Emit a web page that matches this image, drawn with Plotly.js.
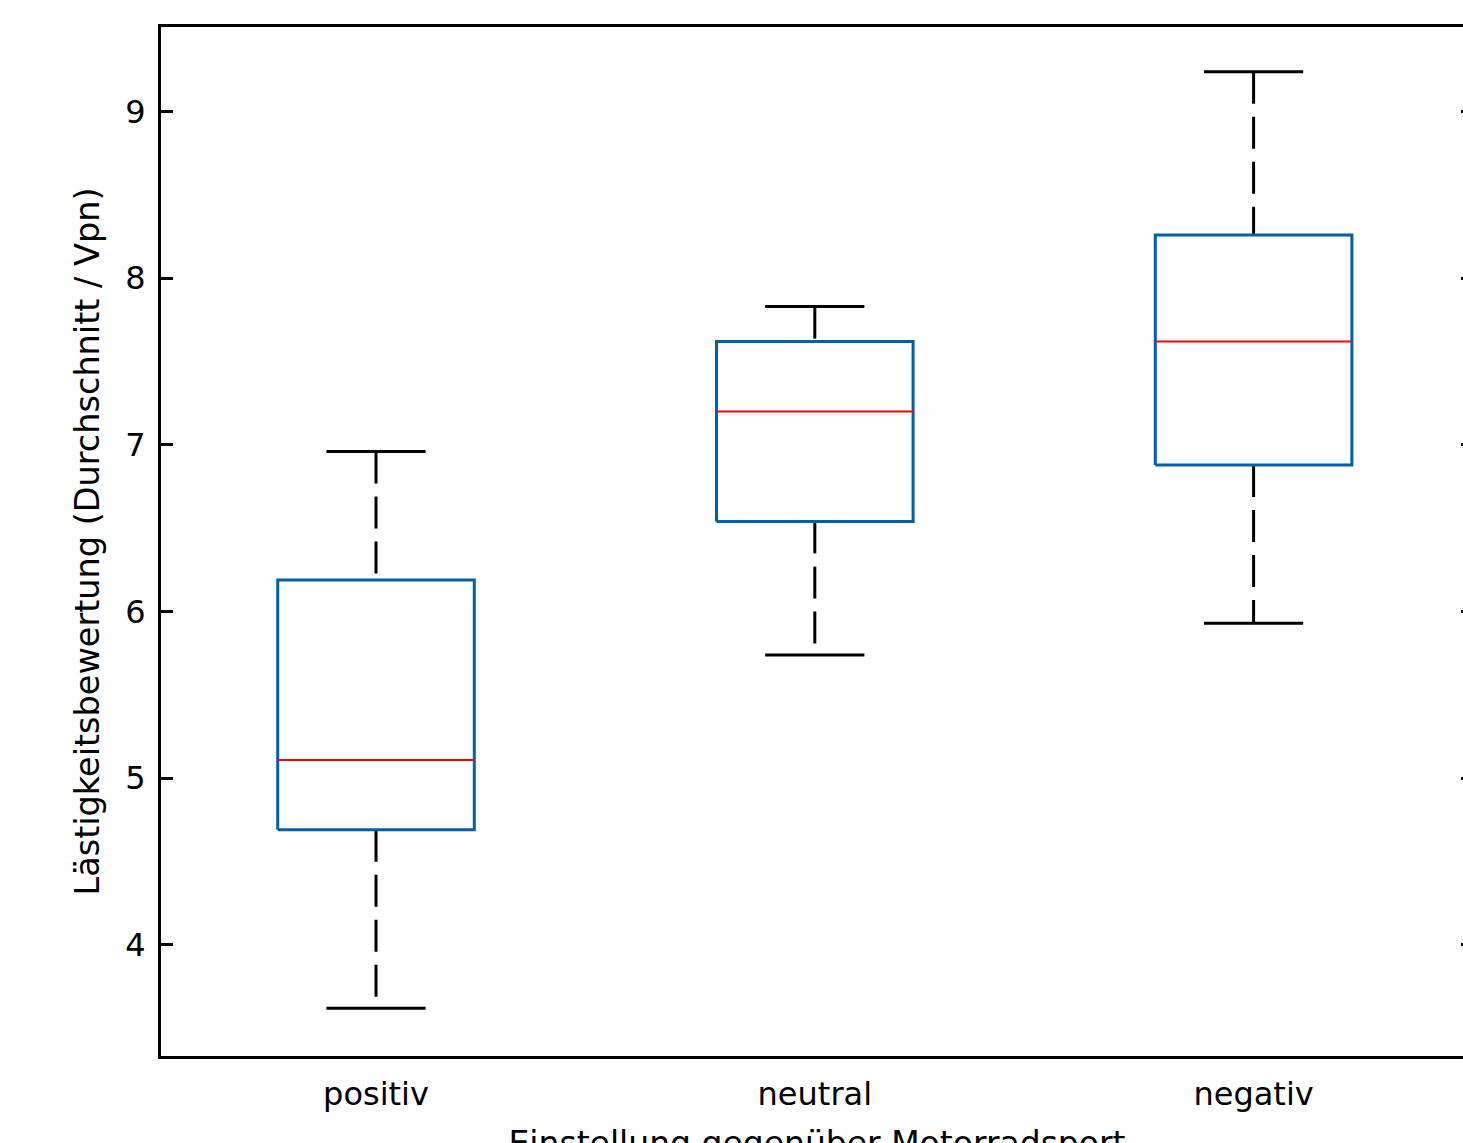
<!DOCTYPE html>
<html>
<head>
<meta charset="utf-8">
<script src="https://cdn.plot.ly/plotly-3.0.1.min.js"></script>
<style>
html,body{margin:0;padding:0;overflow:hidden;background:#fff;}
#chart{width:1480px;height:1200px;}
</style>
</head>
<body>
<div id="chart"></div>
<script>
// Data
const categories = ["positiv", "neutral", "negativ"];
const lowerWhisker = [3.62, 5.74, 5.93];
const q1Values     = [4.69, 6.54, 6.88];
const medians      = [5.11, 7.20, 7.62];
const q3Values     = [6.19, 7.62, 8.26];
const upperWhisker = [6.96, 7.83, 9.24];
const yTickValues  = [4, 5, 6, 7, 8, 9];

const boxHalf = 0.224;
const capHalf = 0.113;
const FONT = "DejaVu Sans, Liberation Sans, Arial, sans-serif";

const pos = categories.map((c, i) => i + 1);

function build(fn) {
  const x = [], y = [];
  pos.forEach((p, i) => {
    const seg = fn(p, i);
    x.push(...seg.x, null);
    y.push(...seg.y, null);
  });
  return {x, y};
}

const boxes = build((p, i) => ({
  x: [p - boxHalf, p + boxHalf, p + boxHalf, p - boxHalf, p - boxHalf],
  y: [q1Values[i], q1Values[i], q3Values[i], q3Values[i], q1Values[i]]
}));
const meds = build((p, i) => ({x: [p - boxHalf, p + boxHalf], y: [medians[i], medians[i]]}));
const upperW = build((p, i) => ({x: [p, p], y: [upperWhisker[i], q3Values[i]]}));
const lowerW = build((p, i) => ({x: [p, p], y: [q1Values[i], lowerWhisker[i]]}));
const caps = build((p, i) => ({
  x: [p - capHalf, p + capHalf, null, p - capHalf, p + capHalf],
  y: [upperWhisker[i], upperWhisker[i], null, lowerWhisker[i], lowerWhisker[i]]
}));

const line = (d, color, width, dash) => ({
  type: "scatter", mode: "lines", x: d.x, y: d.y, hoverinfo: "skip",
  connectgaps: false, line: {color, width, dash: dash || "solid"}, showlegend: false
});

const traces = [
  line(upperW, "#000000", 3, "32px,13px"),
  line(lowerW, "#000000", 3, "32px,13px"),
  line(caps, "#000000", 3),
  line(boxes, "#0060aa", 3),
  line(meds, "#ff0000", 2)
];

const layout = {
  width: 1480, height: 1200,
  margin: {l: 161, r: 7, t: 26.5, b: 144, pad: 0},
  paper_bgcolor: "#ffffff", plot_bgcolor: "#ffffff",
  font: {family: FONT, size: 32, color: "#000000"},
  xaxis: {
    range: [0.51, 3.5], tickvals: pos, ticktext: categories,
    ticks: "", showgrid: false, zeroline: false,
    showline: true, linecolor: "#000000", linewidth: 3, mirror: true,
    tickfont: {family: FONT, size: 32, color: "#000000"},
    ticklabelstandoff: 8,
    title: {text: "Einstellung gegenüber Motorradsport", font: {family: FONT, size: 33, color: "#000000"}, standoff: 20},
    automargin: false
  },
  yaxis: {
    range: [3.333, 9.508], tickvals: yTickValues, ticktext: yTickValues.map(String),
    ticks: "inside", ticklen: 12, tickwidth: 3, tickcolor: "#000000",
    showgrid: false, zeroline: false,
    showline: true, linecolor: "#000000", linewidth: 3, mirror: "ticks",
    tickfont: {family: FONT, size: 32, color: "#000000"},
    ticklabelstandoff: 6,
    title: {text: "Lästigkeitsbewertung (Durchschnitt / Vpn)", font: {family: FONT, size: 33.5, color: "#000000"}, standoff: 16},
    automargin: false
  }
};

Plotly.newPlot("chart", traces, layout, {displayModeBar: false, staticPlot: true});
</script>
</body>
</html>
